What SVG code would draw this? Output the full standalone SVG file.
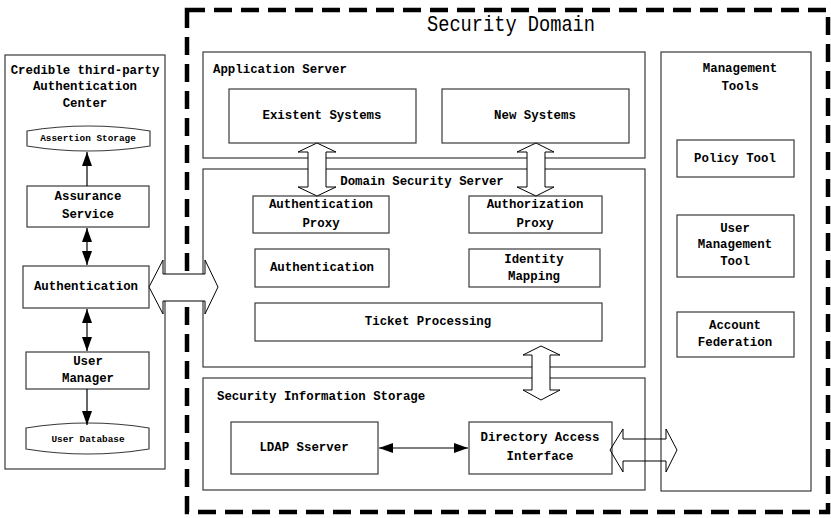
<svg xmlns="http://www.w3.org/2000/svg" width="831" height="518" viewBox="0 0 831 518">
<style>
.box{fill:#fff;stroke:#3a3a3a;stroke-width:1.2}
.cont{fill:none;stroke:#3a3a3a;stroke-width:1.2}
.t{font-family:"Liberation Mono","DejaVu Sans Mono",monospace;font-size:12.4px;font-weight:bold;fill:#000;text-anchor:middle;dominant-baseline:central}
.tl{text-anchor:start}
.sm{font-size:9.4px}
.title{font-family:"Liberation Mono","DejaVu Sans Mono",monospace;font-size:22px;fill:#000;text-anchor:middle;dominant-baseline:central}
.ln{stroke:#000;stroke-width:1.2;fill:none}
.blk{fill:#fff;stroke:#000;stroke-width:1}
</style>
<defs>
<marker id="ah" markerUnits="userSpaceOnUse" markerWidth="14" markerHeight="10" refX="14" refY="5" orient="auto-start-reverse" viewBox="0 0 14 10">
<path d="M0,0 L14,5 L0,10 z" fill="#000"/>
</marker>
</defs>
<rect width="831" height="518" fill="#fff"/>

<g id="security-domain">
<rect x="187" y="10" width="641" height="502" fill="none" stroke="#000" stroke-width="4.5" stroke-dasharray="18 9"/>
<text class="title" x="511" y="25" textLength="168" lengthAdjust="spacingAndGlyphs">Security Domain</text>
</g>

<g id="third-party-center">
<rect class="cont" x="5" y="55" width="160" height="414"/>
<text class="t" x="85" y="71">Credible third-party</text>
<text class="t" x="85" y="87">Authentication</text>
<text class="t" x="85" y="104">Center</text>
</g>
<g id="assertion-storage">
<path class="box" d="M27,131 Q88,121 150,131 L150,146 Q88,156 27,146 Z"/>
<text class="t sm" x="88" y="138.5">Assertion Storage</text>
</g>
<g id="assurance-service">
<rect class="box" x="27" y="186" width="122" height="41"/>
<text class="t" x="88" y="197">Assurance</text>
<text class="t" x="88" y="215">Service</text>
</g>
<g id="authentication-left">
<rect class="box" x="23" y="266" width="126" height="42"/>
<text class="t" x="86" y="287">Authentication</text>
</g>
<g id="user-manager">
<rect class="box" x="26" y="352" width="123" height="37"/>
<text class="t" x="88" y="362">User</text>
<text class="t" x="88" y="379">Manager</text>
</g>
<g id="user-database">
<path class="box" d="M26,428 Q88,418 149,428 L149,449 Q88,459 26,449 Z"/>
<text class="t sm" x="88" y="439">User Database</text>
</g>

<g id="application-server">
<rect class="cont" x="203" y="52" width="442" height="106"/>
<text class="t tl" x="213" y="70">Application Server</text>
</g>
<g id="existent-systems">
<rect class="box" x="229" y="89" width="187" height="54"/>
<text class="t" x="322" y="116">Existent Systems</text>
</g>
<g id="new-systems">
<rect class="box" x="442" y="89" width="187" height="54"/>
<text class="t" x="535" y="116">New Systems</text>
</g>

<g id="domain-security-server">
<rect class="cont" x="203" y="169" width="442" height="198"/>
<text class="t" x="422" y="182">Domain Security Server</text>
</g>
<g id="authentication-proxy">
<rect class="box" x="253" y="196" width="136" height="37"/>
<text class="t" x="321" y="205">Authentication</text>
<text class="t" x="321" y="224">Proxy</text>
</g>
<g id="authorization-proxy">
<rect class="box" x="469" y="196" width="133" height="37"/>
<text class="t" x="535" y="205">Authorization</text>
<text class="t" x="535" y="224">Proxy</text>
</g>
<g id="authentication">
<rect class="box" x="255" y="249" width="134" height="38"/>
<text class="t" x="322" y="268">Authentication</text>
</g>
<g id="identity-mapping">
<rect class="box" x="469" y="249" width="131" height="38"/>
<text class="t" x="534" y="260">Identity</text>
<text class="t" x="534" y="277">Mapping</text>
</g>
<g id="ticket-processing">
<rect class="box" x="255" y="303" width="347" height="38"/>
<text class="t" x="428" y="322">Ticket Processing</text>
</g>

<g id="security-information-storage">
<rect class="cont" x="203" y="378" width="442" height="112"/>
<text class="t tl" x="217" y="397">Security Information Storage</text>
</g>
<g id="ldap-server">
<rect class="box" x="231" y="422" width="147" height="52"/>
<text class="t" x="304" y="448">LDAP Sserver</text>
</g>
<g id="directory-access-interface">
<rect class="box" x="469" y="422" width="143" height="52"/>
<text class="t" x="540" y="438">Directory Access</text>
<text class="t" x="540" y="457">Interface</text>
</g>

<g id="management-tools">
<rect class="cont" x="661" y="52" width="150" height="439"/>
<text class="t" x="740" y="69">Management</text>
<text class="t" x="740" y="87">Tools</text>
</g>
<g id="policy-tool">
<rect class="box" x="677" y="140" width="117" height="37"/>
<text class="t" x="735" y="159">Policy Tool</text>
</g>
<g id="user-management-tool">
<rect class="box" x="677" y="215" width="117" height="62"/>
<text class="t" x="735" y="229">User</text>
<text class="t" x="735" y="245">Management</text>
<text class="t" x="735" y="262">Tool</text>
</g>
<g id="account-federation">
<rect class="box" x="677" y="312" width="117" height="45"/>
<text class="t" x="735" y="326">Account</text>
<text class="t" x="735" y="343">Federation</text>
</g>

<g id="connectors">
<line class="ln" x1="87" y1="186" x2="87" y2="152" marker-end="url(#ah)"/>
<line class="ln" x1="87" y1="228" x2="87" y2="265" marker-start="url(#ah)" marker-end="url(#ah)"/>
<line class="ln" x1="87" y1="309" x2="87" y2="351" marker-start="url(#ah)" marker-end="url(#ah)"/>
<line class="ln" x1="87" y1="389" x2="87" y2="425" marker-end="url(#ah)"/>
<line class="ln" x1="379" y1="448" x2="468" y2="448" marker-start="url(#ah)" marker-end="url(#ah)"/>
<path class="blk" d="M149,287 L163,260 L163,274 L205,274 L205,260 L218,287 L205,314 L205,301 L163,301 L163,314 Z"/>
<path class="blk" d="M317,143 L336,152 L326,152 L326,187 L336,187 L317,196 L298,187 L308,187 L308,152 L298,152 Z"/>
<path class="blk" d="M536,143 L554,152 L545,152 L545,187 L554,187 L536,196 L517,187 L527,187 L527,152 L517,152 Z"/>
<path class="blk" d="M541,346 L560,355 L550,355 L550,390 L560,390 L541,400 L523,390 L532,390 L532,355 L523,355 Z"/>
<path fill="none" stroke="#000" stroke-width="1" d="M610,450 L623,429 L623,439 L666,439 L666,429 L677,450 L666,472 L666,461 L623,461 L623,472 Z"/>
</g>
</svg>
